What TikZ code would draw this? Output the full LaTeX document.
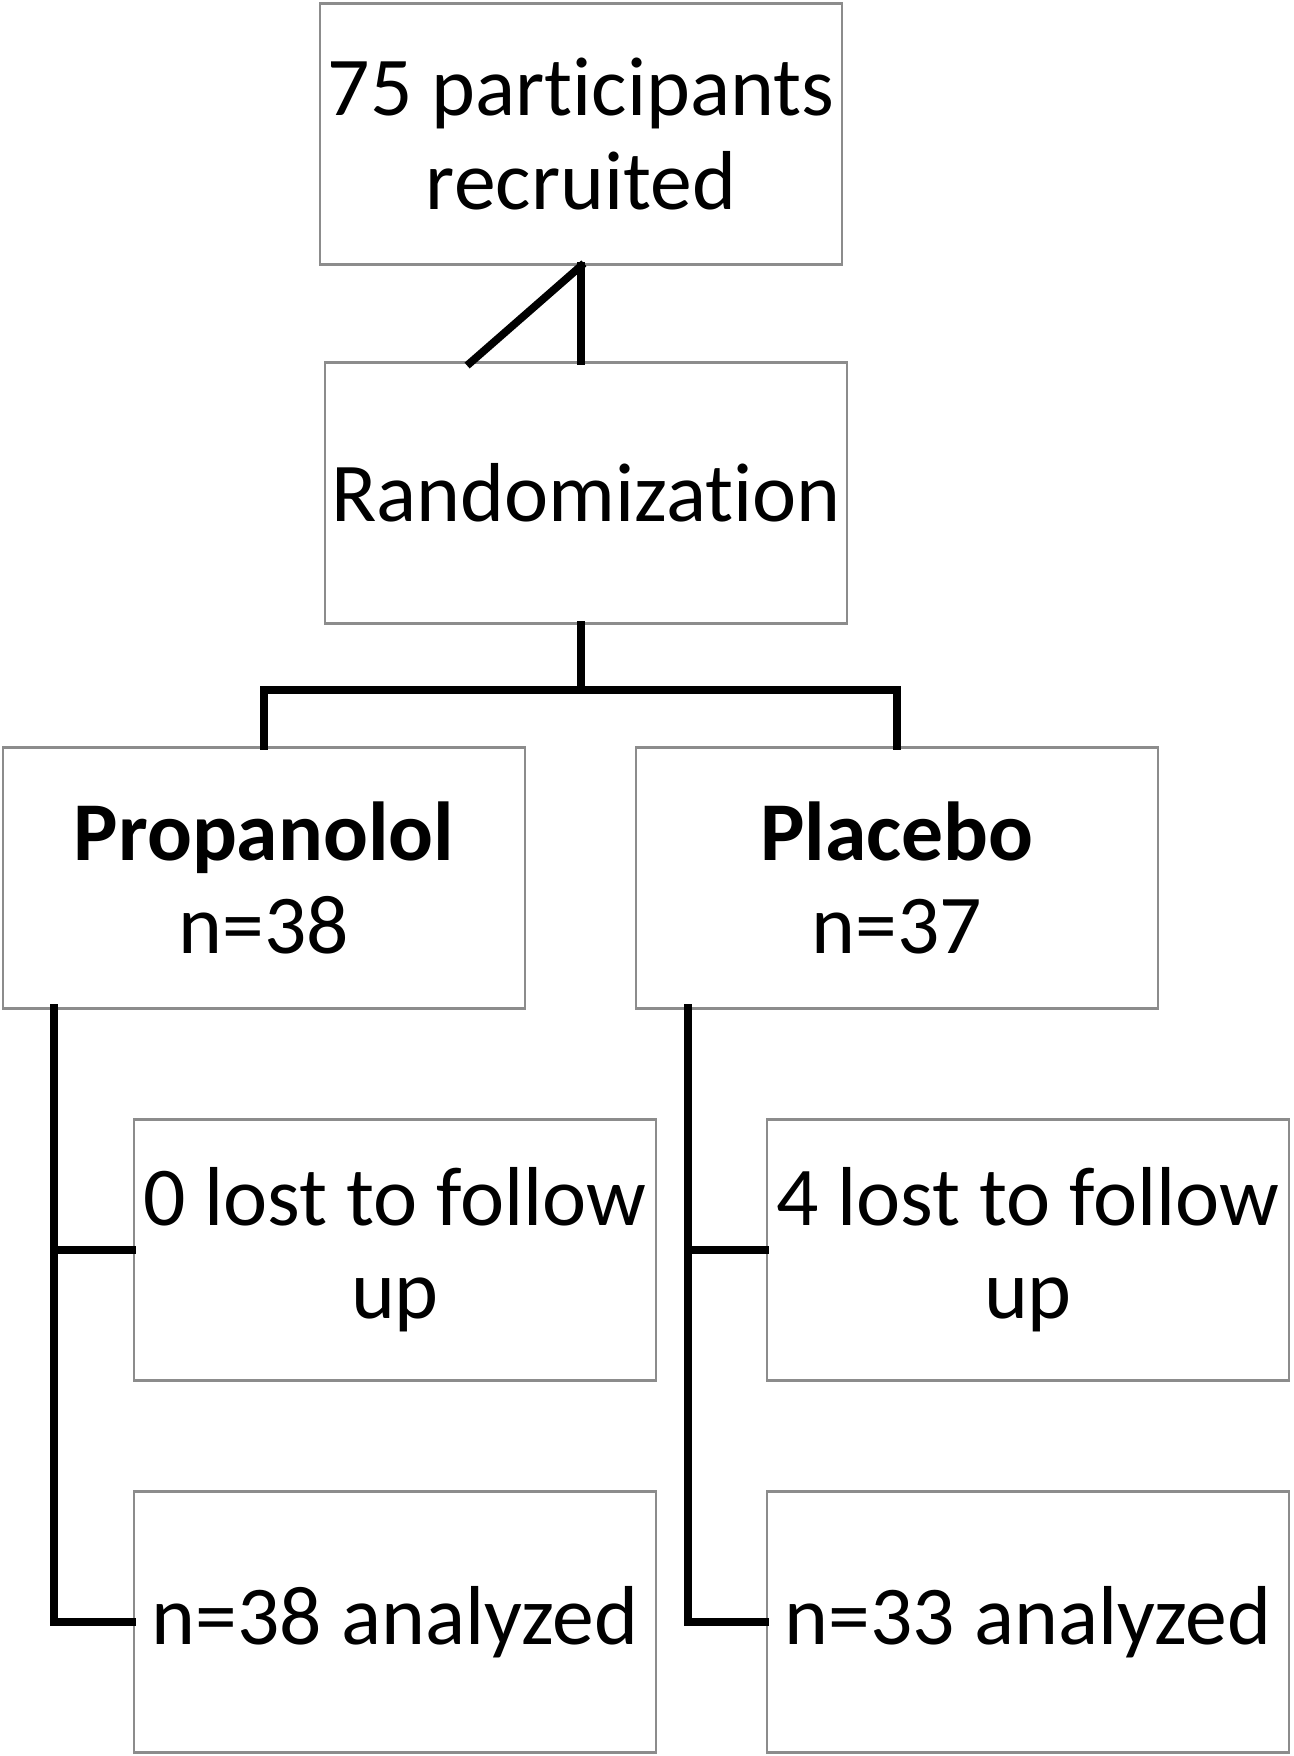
\documentclass[tikz,border=0pt]{standalone}
\usepackage{fontspec}
\setmainfont[Ligatures=NoCommon]{Carlito}
\usepackage{tikz}

\tikzset{
        flowbox/.style={draw=black!45, line width=0.8pt, fill=white,
                minimum width=5.22cm, minimum height=2.61cm,
                align=center, inner sep=0pt,
                font=\fontsize{23.8}{26.5}\selectfont},
        link/.style={line width=2.2pt, line cap=rect}
}

\begin{document}
\begin{tikzpicture}

        \useasboundingbox (0, 0) rectangle (12.94, -17.56);

        \node[flowbox] (recruit) at (5.81, -1.34) {75 participants\\recruited};
        \node[flowbox] (random) at (5.86, -4.93) {Randomization};

        \node[flowbox] (prop) at (2.64, -8.78) {\textbf{Propanolol}\\n=38};
        \node[flowbox] (plac) at (8.97, -8.78) {\textbf{Placebo}\\n=37};

        \node[flowbox] (lostL) at (3.95, -12.50) {0 lost to follow\\up};
        \node[flowbox] (lostR) at (10.28, -12.50) {4 lost to follow\\up};
        \node[flowbox] (anaL) at (3.95, -16.22) {n=38 analyzed};
        \node[flowbox] (anaR) at (10.28, -16.22) {n=33 analyzed};

        \coordinate (diag) at (4.70, -3.63);
        \coordinate (spineL) at (0.54, -10.08);
        \coordinate (spineR) at (6.88, -10.08);

        % recruitment to randomization
        \draw[link] (recruit.south) -- (recruit.south |- random.north);
        \draw[link] (recruit.south) -- (diag);

        % randomization to the two arms
        \draw[link] (recruit.south |- random.south) -- ++(0, -0.65) -| (prop.north);
        \draw[link] (recruit.south |- random.south) -- ++(0, -0.65) -| (plac.north);

        % follow up
        \foreach \arm/\lost/\ana in {L/lostL/anaL, R/lostR/anaR}
        {
                \draw[link] (spine\arm) |- (\ana.west);
                \draw[link] (\lost.west -| spine\arm) -- (\lost.west);
        }

\end{tikzpicture}
\end{document}
